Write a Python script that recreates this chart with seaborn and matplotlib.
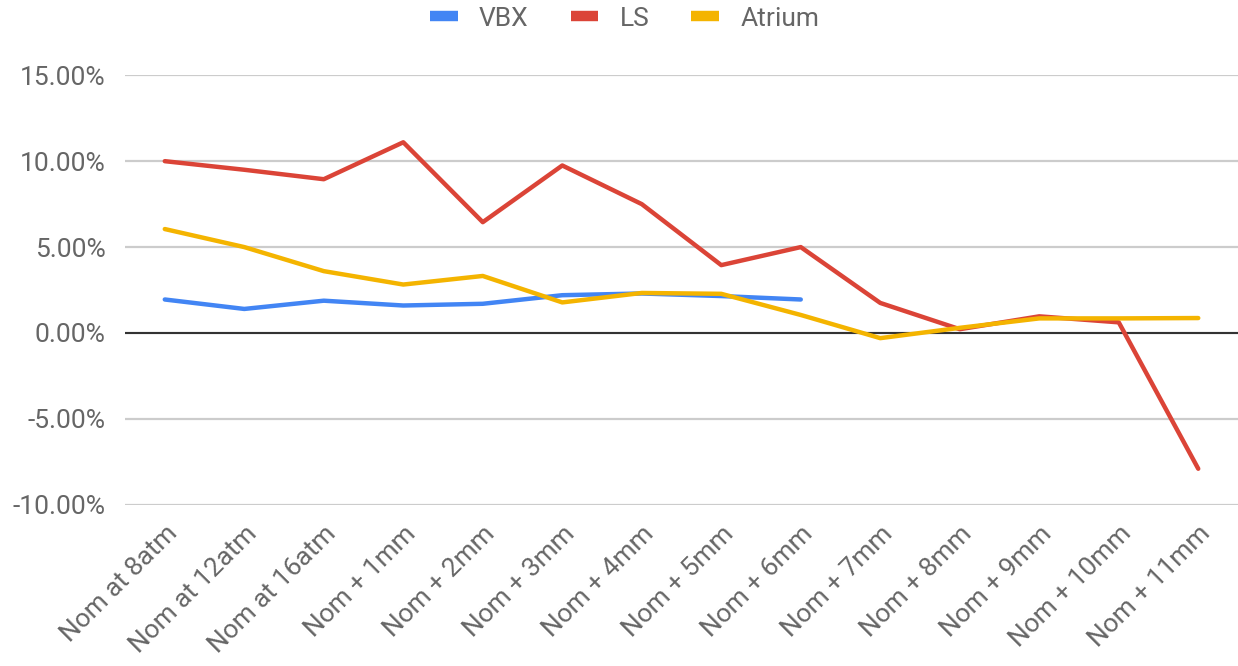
import numpy as np
import pandas as pd
import matplotlib.pyplot as plt
import matplotlib.ticker as mticker
import seaborn as sns

# Dados
categorias = ['Nom at 8atm', 'Nom at 12atm', 'Nom at 16atm', 'Nom + 1mm', 'Nom + 2mm',
              'Nom + 3mm', 'Nom + 4mm', 'Nom + 5mm', 'Nom + 6mm', 'Nom + 7mm',
              'Nom + 8mm', 'Nom + 9mm', 'Nom + 10mm', 'Nom + 11mm']
vbx = [1.95, 1.40, 1.88, 1.60, 1.70, 2.20, 2.30, 2.15, 1.95,
       np.nan, np.nan, np.nan, np.nan, np.nan]
ls = [10.0, 9.5, 8.95, 11.1, 6.45, 9.75, 7.5, 3.95, 5.0, 1.75, 0.22, 0.97, 0.62, -7.9]
atrium = [6.05, 5.0, 3.6, 2.82, 3.32, 1.78, 2.33, 2.28, 1.05, -0.3, 0.3, 0.85, 0.85, 0.87]

series = {'VBX': vbx, 'LS': ls, 'Atrium': atrium}
cores = {'VBX': '#4285F4', 'LS': '#DB4437', 'Atrium': '#F4B400'}

# Montar tabela longa
linhas = []
for nome, valores in series.items():
    for i, v in enumerate(valores):
        linhas.append({'x': i, 'valor': v, 'serie': nome})
df = pd.DataFrame(linhas).dropna()

sns.set_theme(style='white')
plt.rcParams['font.family'] = ['Roboto', 'DejaVu Sans']

fig = plt.figure(figsize=(12.38, 6.66), dpi=100)
ax = fig.add_axes([0.101, 0.242, 0.899, 0.645])

sns.lineplot(data=df, x='x', y='valor', hue='serie', palette=cores,
             hue_order=['VBX', 'LS', 'Atrium'], linewidth=3.2, ax=ax,
             legend=False, zorder=3)

ax.set_xlim(-0.5, len(categorias) - 0.5)
ax.set_ylim(-10, 15)
ax.set_yticks([-10, -5, 0, 5, 10, 15])
ax.yaxis.set_major_formatter(mticker.FuncFormatter(lambda v, p: f'{v:.2f}%'))
ax.set_xticks(range(len(categorias)))
ax.set_xticklabels(categorias, rotation=45, ha='right', rotation_mode='anchor')
ax.tick_params(axis='y', labelsize=19, colors='#666666', length=0, pad=14)
ax.tick_params(axis='x', labelsize=19, colors='#666666', length=0, pad=12)
ax.set_xlabel('')
ax.set_ylabel('')

ax.grid(axis='y', color='#cccccc', linewidth=1.6, zorder=0)
ax.axhline(0, color='#333333', linewidth=1.5, zorder=2)
for s in ax.spines.values():
    s.set_visible(False)

# Legenda no topo
handles = [plt.Line2D([], [], color=cores[n], linewidth=7.5, solid_capstyle='butt')
           for n in series]
fig.legend(handles, list(series.keys()), loc='center', bbox_to_anchor=(0.5045, 0.972),
           ncol=3, frameon=False, fontsize=19, handlelength=1.05, columnspacing=1.6,
           handletextpad=0.8, labelcolor='#666666')

fig.savefig('out.png', dpi=100)
